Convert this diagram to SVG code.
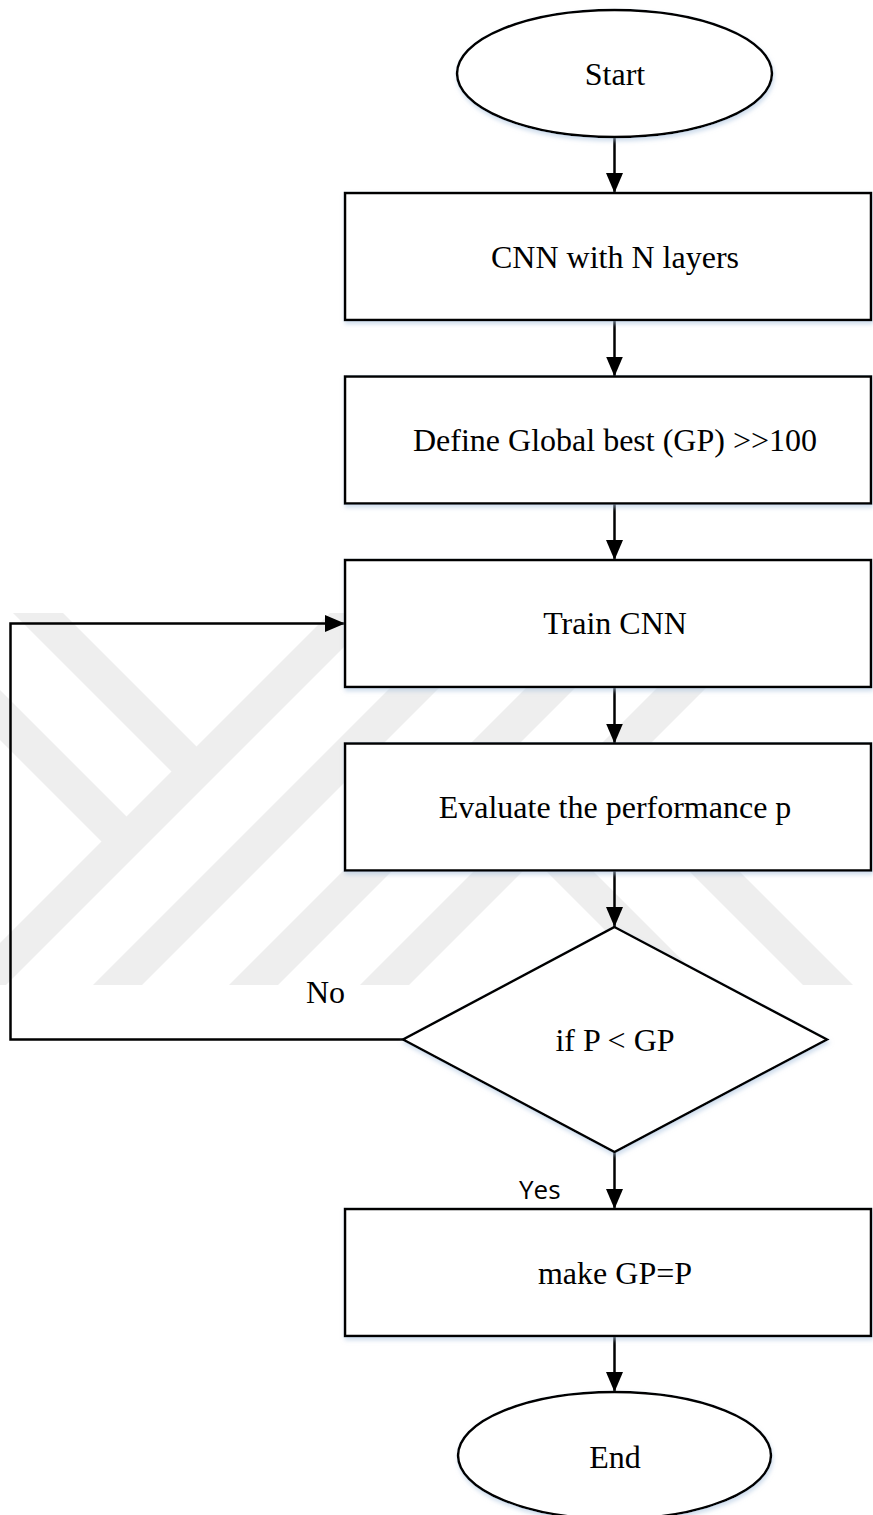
<svg xmlns="http://www.w3.org/2000/svg" width="873" height="1515" viewBox="0 0 873 1515">
  <style>
    .shape { fill: #ffffff; stroke: #000000; stroke-width: 2.5; filter: url(#soft); }
    .label { font-family: "Liberation Serif", "Times New Roman", serif; font-size: 32px; fill: #000000; text-anchor: middle; }
    .edge { fill: none; stroke: #000000; stroke-width: 2.5; }
    .note { font-family: "Liberation Serif", "Times New Roman", serif; font-size: 32px; fill: #000000; }
    .note-sans { font-family: "Open Sans", "Noto Sans", sans-serif; font-size: 26px; fill: #000000; }
    .band { fill: #eeeeee; }
  </style>
  <defs>
    <filter id="soft" x="-10%" y="-10%" width="125%" height="130%">
      <feDropShadow dx="1" dy="3" stdDeviation="2" flood-color="#a9c1de" flood-opacity="0.55"/>
    </filter>
    <marker id="head" markerUnits="userSpaceOnUse" markerWidth="20" markerHeight="18" refX="20" refY="8.5" orient="auto">
      <path d="M0,0 L20,8.5 L0,17 Z" fill="#000000"/>
    </marker>
    <clipPath id="markArea">
      <rect x="0" y="613" width="873" height="372"/>
    </clipPath>
  </defs>

  <rect x="0" y="0" width="873" height="1515" fill="#ffffff"/>

  <!-- faint striped background mark -->
  <g id="background-mark" clip-path="url(#markArea)">
    <polygon class="band" points="13,613 63,613 205,755 180,780"/>
    <polygon class="band" points="0,690 135,825 110,850 0,740"/>
    <polygon class="band" points="330,613 378,613 6,985 -42,985"/>
    <polygon class="band" points="465,613 514,613 142,985 93,985"/>
    <polygon class="band" points="601,613 650,613 278,985 229,985"/>
    <polygon class="band" points="732,613 781,613 409,985 360,985"/>
    <polygon class="band" points="475,800 522,800 707,985 660,985"/>
    <polygon class="band" points="618,800 668,800 853,985 803,985"/>
  </g>

  <!-- connectors -->
  <g id="connectors">
    <line class="edge" x1="614.5" y1="137" x2="614.5" y2="193" marker-end="url(#head)"/>
    <line class="edge" x1="614.5" y1="320" x2="614.5" y2="376.5" marker-end="url(#head)"/>
    <line class="edge" x1="614.5" y1="503.5" x2="614.5" y2="560" marker-end="url(#head)"/>
    <line class="edge" x1="614.5" y1="687" x2="614.5" y2="743.5" marker-end="url(#head)"/>
    <line class="edge" x1="614.5" y1="870.5" x2="614.5" y2="927" marker-end="url(#head)"/>
    <line class="edge" x1="614.5" y1="1152" x2="614.5" y2="1209" marker-end="url(#head)"/>
    <line class="edge" x1="614.5" y1="1336" x2="614.5" y2="1392" marker-end="url(#head)"/>
    <path class="edge" d="M403,1039.5 L10.5,1039.5 L10.5,623.5 L345,623.5" marker-end="url(#head)"/>
    <text class="note" x="306" y="1003">No</text>
    <text class="note-sans" x="519" y="1199">Yes</text>
  </g>

  <g id="start">
    <ellipse class="shape" cx="614.5" cy="73.5" rx="157.5" ry="63.5"/>
    <text class="label" x="615" y="85">Start</text>
  </g>

  <g id="cnn-layers">
    <rect class="shape" x="345" y="193" width="526" height="127"/>
    <text class="label" x="615" y="267.5">CNN with N layers</text>
  </g>

  <g id="define-global-best">
    <rect class="shape" x="345" y="376.5" width="526" height="127"/>
    <text class="label" x="615" y="451">Define Global best (GP) &gt;&gt;100</text>
  </g>

  <g id="train-cnn">
    <rect class="shape" x="345" y="560" width="526" height="127"/>
    <text class="label" x="615" y="634">Train CNN</text>
  </g>

  <g id="evaluate">
    <rect class="shape" x="345" y="743.5" width="526" height="127"/>
    <text class="label" x="615" y="818">Evaluate the performance p</text>
  </g>

  <g id="decision">
    <polygon class="shape" points="614.5,927 827,1039.5 614.5,1152 403,1039.5"/>
    <text class="label" x="615" y="1050.5">if P &lt; GP</text>
  </g>

  <g id="update-gp">
    <rect class="shape" x="345" y="1209" width="526" height="127"/>
    <text class="label" x="615" y="1283.5">make GP=P</text>
  </g>

  <g id="end">
    <ellipse class="shape" cx="614.5" cy="1455.5" rx="156.5" ry="63.5"/>
    <text class="label" x="615" y="1467.5">End</text>
  </g>
</svg>
